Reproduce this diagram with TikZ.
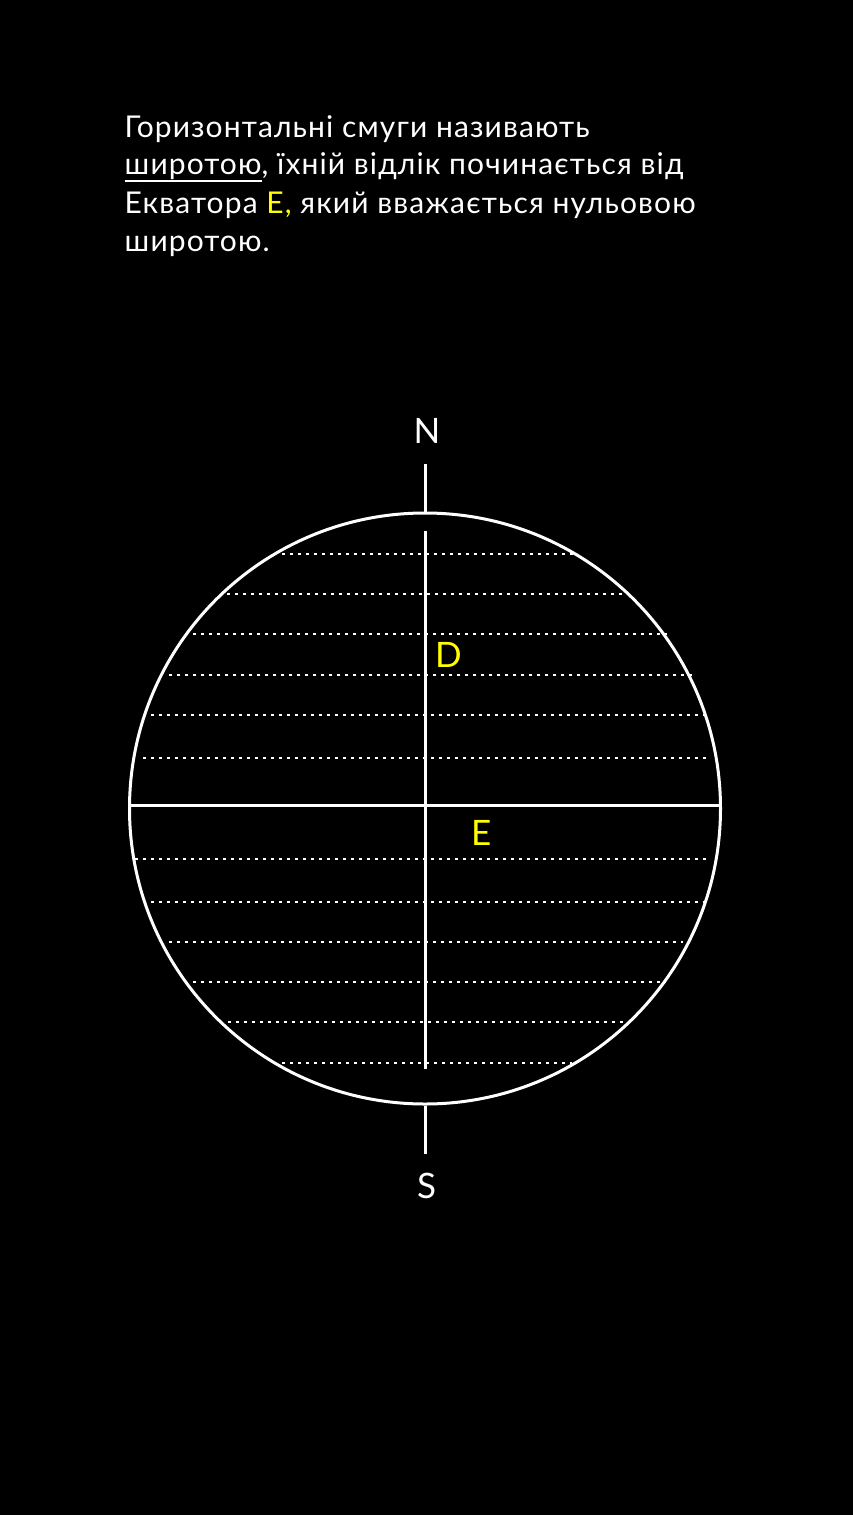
\documentclass[tikz,border=0pt]{standalone}
\usepackage{fontspec}
\setmainfont{Lato}
\newfontfamily\bodyfont[LetterSpace=3.7]{Lato}
\definecolor{ylw}{HTML}{FFFF00}
\newcommand\myul[1]{\setbox0\hbox{#1}\rlap{\rule[-7.5pt]{\wd0}{1.5pt}}\box0}
\tikzset{
 txt/.style={text=white, font=\bodyfont\fontsize{30}{37.5}\selectfont, inner sep=0pt, anchor=base west},
 lbl/.style={font=\fontsize{35}{40}\selectfont, inner sep=0pt},
 axisline/.style={draw=white, line width=3pt},
 latline/.style={draw=white, line width=2.6pt, dash pattern=on 2.6pt off 5.4pt},
}
\begin{document}
\begin{tikzpicture}[x=1pt,y=-1pt]
\fill[black] (0,0) rectangle (853,1515);
\useasboundingbox (0,0) rectangle (853,1515);
\node[txt] (l1) at (124.5,137.3) {Горизонтальні смуги називають};
\node[txt] (l2) at (124.5,174.3) {\myul{широтою}, їхній відлік починається від};
\node[txt] (l3) at (124.5,213.3) {Екватора \textcolor{ylw}{Е,} який вважається нульовою};
\node[txt] (l4) at (124.5,251.7) {широтою.};
% latitude lines
\foreach \y/\a/\b in {554/282/578, 594/227/632, 634/193/667, 675/169/692, 715/143/709, 758/143/710,
  859/135/709, 902/151/709, 942/169/683, 982/193/666, 1022/228/632, 1063/282/572}
  \draw[latline] (\a,\y) -- (\b,\y);
\node[draw=white, line width=3pt, circle, minimum size=591pt, inner sep=0pt] (globe) at (425,808.5) {};
\draw[axisline] ([yshift=3pt]globe.west) -- ([yshift=3pt]globe.east);
\coordinate (ntop) at (425,464);
\coordinate (itop) at (425,531);
\coordinate (ibot) at (425,1069);
\coordinate (sbot) at (425,1154);
\draw[axisline] (ntop) -- (globe.north);
\draw[axisline] (itop) -- (ibot);
\draw[axisline] (globe.south) -- (sbot);
\node[lbl, text=white, anchor=base] (N) at (427,443) {N};
\node[lbl, text=white, anchor=base] (S) at (426.5,1198) {S};
\node[lbl, text=ylw, anchor=base west] (D) at (435,667) {D};
\node[lbl, text=ylw, anchor=base west] (E) at (471,845) {E};
\end{tikzpicture}
\end{document}
